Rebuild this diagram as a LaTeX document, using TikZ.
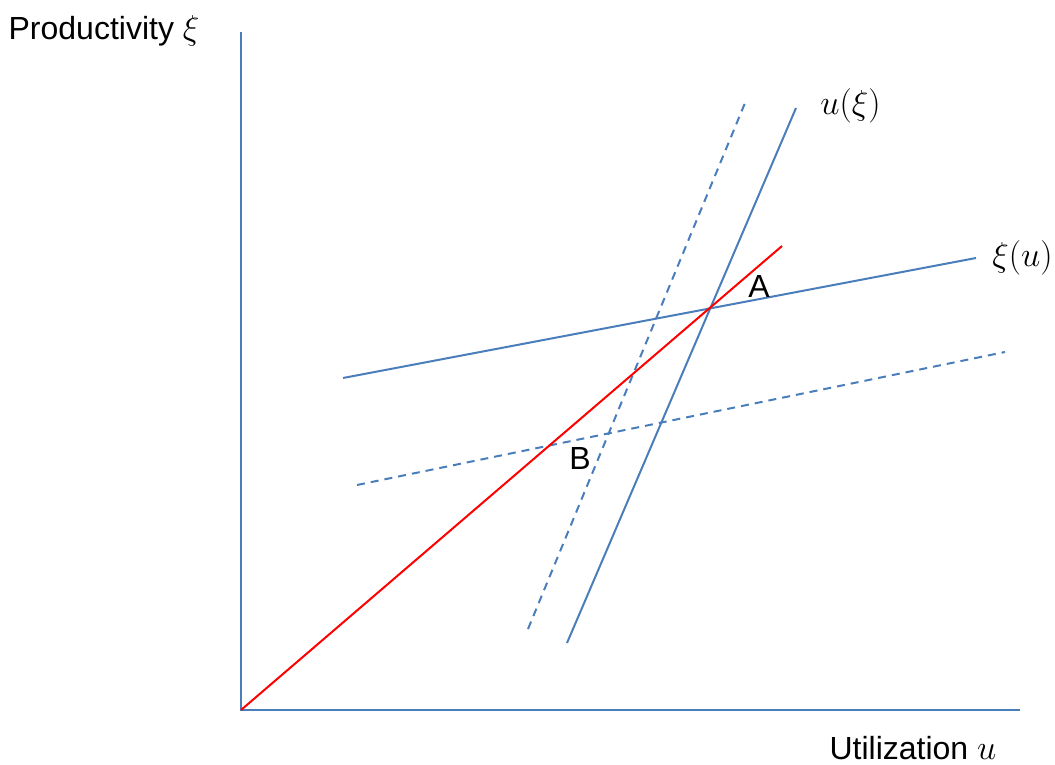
\documentclass[tikz,border=0pt]{standalone}
\usepackage{fontspec}
\setmainfont{Liberation Sans}
\usepackage{tikz}
\usetikzlibrary{positioning}

\definecolor{curveblue}{HTML}{4A7EBB}

\tikzset{
  curve/.style={curveblue, line width=1pt},
  shifted/.style={curve, dash pattern=on 4pt off 3pt},
  axis/.style={curveblue, line width=1.1pt},
  lbl/.style={font=\fontsize{16}{19}\selectfont, inner sep=0pt}
}

\begin{document}
\begin{tikzpicture}[x=0.5pt, y=-0.5pt]
\useasboundingbox (0,0) rectangle (1055,765);

% Axes
\coordinate (origin) at (241,710);
\coordinate (ytop) at (241,32);
\coordinate (xend) at (1020,710);
\draw[axis] (ytop) -- (origin) -- (xend);
\node[lbl] (ylab) at (104,31) {Productivity $\xi$};
\node[lbl] (xlab) at (913,748) {Utilization $u$};

% Curves
\coordinate (xis0) at (343,378);
\coordinate (xis1) at (976,258);
\coordinate (xid0) at (357,485);
\coordinate (xid1) at (1005,352);
\coordinate (us0) at (567,643);
\coordinate (us1) at (796,108);
\coordinate (ud0) at (528,629);
\coordinate (ud1) at (745,103);
\coordinate (ray) at (782,246);

\draw[curve] (xis0) -- (xis1);
\draw[shifted] (xid0) -- (xid1);
\draw[curve] (us0) -- (us1);
\draw[shifted] (ud0) -- (ud1);
\draw[red, line width=1pt] (origin) -- (ray);

% Labels
\node[lbl, right=12pt of us1, yshift=1pt] (ulab) {$u(\xi)$};
\node[lbl, right=8pt of xis1] (xilab) {$\xi(u)$};
\node[lbl] (A) at (759,286) {A};
\node[lbl] (B) at (580,458) {B};
\end{tikzpicture}
\end{document}
